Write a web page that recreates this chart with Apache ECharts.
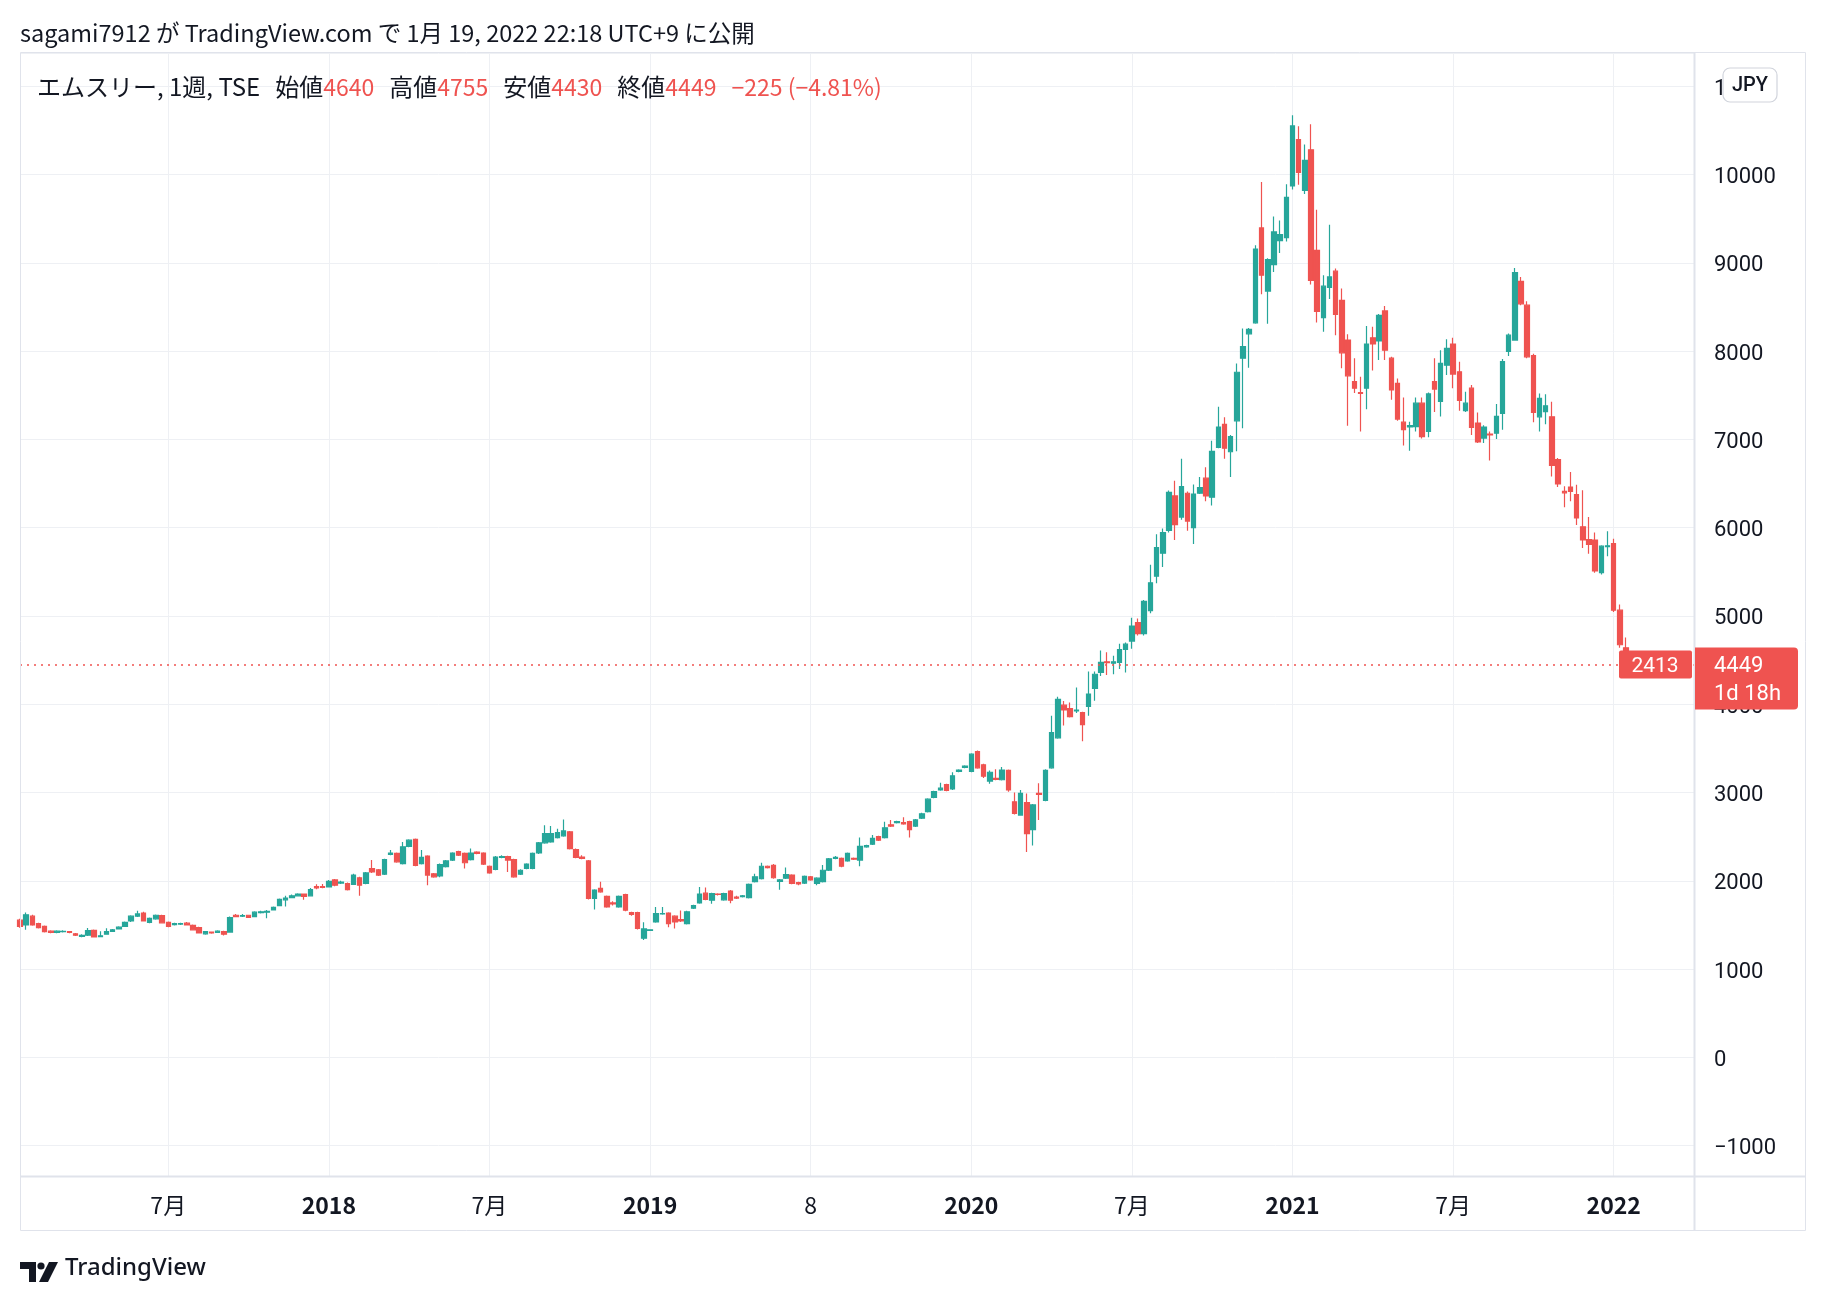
<!DOCTYPE html>
<html><head><meta charset="utf-8">
<script src="https://cdn.jsdelivr.net/npm/echarts@6/dist/echarts.min.js"></script>
<style>html,body{margin:0;padding:0;background:#fff}#c{width:1826px;height:1302px}</style>
</head><body><div id="c"></div>
<script>
// Weekly OHLC (エムスリー 2413, TSE)
const opens = [
1555,1500,1600,1515,1485,1430,1415,1425,1425,1400,1372,1385,1440,1368,1395,1428,1455,1485,1545,1600,
1635,1530,1570,1605,1530,1505,1510,1520,1495,1470,1400,1420,1415,1425,1420,1610,1600,1610,1595,1640,
1645,1670,1720,1785,1810,1830,1850,1830,1935,1935,1930,2010,1975,1970,1960,2035,1970,2140,2125,2075,
2300,2310,2195,2390,2470,2195,2280,2080,2055,2160,2235,2330,2310,2240,2325,2315,2165,2130,2265,2275,
2240,2075,2140,2140,2315,2430,2440,2490,2510,2555,2355,2270,2225,1800,1915,1825,1750,1705,1845,1640,
1640,1350,1440,1535,1625,1635,1600,1560,1515,1690,1750,1860,1780,1850,1785,1885,1815,1820,1810,1990,
2025,2165,2175,1995,2030,2065,1980,1975,2045,1970,1990,2120,2255,2255,2225,2255,2235,2385,2415,2500,
2490,2635,2660,2660,2670,2620,2710,2785,2945,3030,3090,3040,3240,3285,3240,3465,3315,3130,3160,3145,
3250,2895,2745,2885,2580,2990,2910,3280,3620,3990,3950,3925,3905,3975,4180,4360,4480,4465,4475,4620,
4715,4925,4800,5060,5450,5710,5970,6360,6120,6390,6000,6390,6560,6345,6910,7170,6860,7210,7920,8195,
8320,9395,8680,8980,9250,9285,9870,10395,9820,10280,9140,8380,8720,8905,8575,8125,7655,7530,7580,8150,
8115,8455,7920,7635,7195,7140,7145,7410,7090,7655,7430,7840,8080,7765,7325,7580,7185,7015,7060,7070,
7295,7995,8125,8790,8520,7950,7255,7315,7255,6770,6410,6460,6375,6010,5865,5860,5490,5785,5820,5065,
4640];
const closes = [
1485,1615,1500,1470,1425,1415,1430,1428,1415,1385,1382,1435,1365,1378,1425,1445,1475,1530,1600,1625,
1545,1575,1610,1525,1485,1515,1515,1500,1445,1410,1425,1410,1430,1395,1585,1595,1605,1585,1645,1650,
1655,1700,1790,1805,1830,1850,1825,1900,1920,1925,1995,1950,1985,1900,2065,1950,2090,2100,2065,2240,
2315,2215,2385,2460,2175,2265,2065,2045,2185,2225,2315,2290,2205,2315,2310,2190,2090,2270,2275,2235,
2045,2120,2190,2310,2430,2535,2535,2545,2565,2365,2265,2255,1800,1895,1875,1705,1740,1825,1668,1620,
1460,1455,1445,1630,1630,1515,1535,1545,1650,1720,1850,1790,1855,1845,1855,1780,1805,1830,1960,2045,
2165,2150,2035,2010,2070,1970,1965,2050,2010,2030,2120,2250,2265,2165,2310,2245,2390,2400,2480,2460,
2600,2620,2670,2645,2580,2690,2760,2925,3010,3050,3025,3190,3255,3300,3435,3280,3185,3230,3150,3255,
3030,2765,2990,2535,2860,2980,3250,3680,4055,3935,3860,3935,3770,4115,4340,4475,4470,4480,4620,4680,
4885,4800,5165,5375,5775,5945,6400,6035,6465,6075,6380,6455,6360,6865,7140,6900,7030,7760,8050,8245,
9155,8860,9035,9350,9320,9740,10550,10025,10160,8800,8450,8735,8840,8415,7980,7720,7580,7520,8080,8080,
8405,8010,7560,7230,7110,7155,7410,7030,7515,7570,7860,8030,7740,7440,7410,7135,6970,7140,7050,7260,
7880,8180,8890,8535,7935,7305,7465,7380,6705,6495,6395,6410,6110,5860,5810,5510,5790,5795,5065,4674,
4449];
const lows = [
1470,1445,1490,1460,1415,1405,1405,1415,1405,1375,1360,1375,1360,1360,1390,1420,1450,1480,1535,1590,
1540,1520,1560,1520,1475,1495,1500,1495,1440,1405,1390,1400,1410,1380,1415,1590,1590,1580,1590,1630,
1575,1665,1715,1710,1805,1825,1785,1825,1905,1915,1925,1940,1965,1890,1955,1830,1960,2090,2055,2065,
2290,2205,2185,2380,2165,2185,1950,2035,2040,2150,2225,2280,2140,2230,2300,2180,2080,2120,2255,2100,
2035,2065,2130,2130,2305,2420,2430,2480,2500,2355,2255,2245,1790,1675,1865,1695,1720,1695,1655,1605,
1450,1330,1435,1525,1615,1475,1460,1535,1505,1680,1740,1780,1740,1835,1775,1745,1795,1810,1800,1980,
2015,2140,2025,1900,2020,1960,1950,1965,2000,1950,1980,2110,2245,2155,2215,2235,2165,2375,2405,2450,
2480,2610,2650,2635,2490,2610,2700,2775,2935,3020,3015,3030,3230,3275,3230,3270,3165,3100,3140,3135,
3010,2750,2740,2327,2400,2688,2900,3270,3610,3760,3850,3900,3580,3870,4040,4320,4330,4340,4400,4360,
4630,4780,4780,5030,5370,5555,5945,5860,6090,5965,5815,6380,6300,6250,6900,6780,6575,6865,7125,7810,
8310,8645,8310,8895,9110,9240,9830,9885,9780,8755,8325,8220,8590,8180,7805,7155,7525,7090,7340,7780,
7900,7900,7450,7210,6930,6870,7090,7010,7025,7310,7260,7730,7580,7325,7310,7050,6960,6960,6760,7005,
7110,7945,8120,8520,7920,7195,7090,7170,6580,6460,6230,6300,6030,5770,5705,5490,5470,5675,5045,4640,
4430];
const highs = [
1570,1640,1615,1525,1495,1440,1440,1440,1432,1410,1395,1465,1450,1430,1462,1455,1485,1540,1610,1660,
1650,1585,1620,1615,1540,1525,1525,1535,1505,1480,1430,1425,1440,1435,1595,1625,1625,1615,1655,1660,
1670,1710,1800,1830,1845,1860,1855,1920,1960,1965,2010,2020,2000,1980,2080,2045,2100,2235,2135,2250,
2350,2320,2440,2470,2480,2350,2290,2090,2195,2235,2325,2340,2320,2365,2335,2325,2175,2280,2290,2285,
2250,2130,2200,2320,2440,2630,2620,2590,2695,2565,2365,2290,2235,1905,1990,1835,1770,1835,1855,1650,
1650,1530,1450,1705,1705,1645,1610,1665,1660,1730,1930,1925,1865,1860,1865,1895,1830,1840,1970,2080,
2205,2175,2190,2020,2150,2075,1990,2060,2055,2040,2180,2260,2280,2265,2320,2265,2490,2410,2520,2510,
2670,2690,2680,2720,2680,2700,2770,2935,3020,3110,3100,3230,3265,3310,3445,3475,3325,3250,3265,3290,
3260,3000,3030,2990,2870,3106,3265,3870,4085,4037,4020,4190,3915,4370,4370,4610,4590,4550,4685,4700,
4980,4970,5180,5580,5925,5990,6420,6530,6780,6410,6490,6575,6685,6985,7370,7250,7050,7860,8255,8260,
9200,9915,9050,9525,9480,9890,10670,10545,10340,10570,9600,8860,9430,8935,8710,8190,7920,7710,8285,8275,
8420,8510,7935,7690,7475,7200,7475,7475,7530,7920,8010,8135,8150,7880,7540,7615,7305,7160,7090,7400,
7910,8200,8940,8840,8565,7970,7520,7510,7425,6790,6470,6630,6485,6425,6120,5945,5800,5960,5875,5130,
4755];

// X axis: weekly slots from 2017-01-16, empty slots continue to the right edge
const startWeek = Date.UTC(2017, 0, 16);
const slotCount = 272;
const tickWeeks = [24, 50, 76, 102, 128, 154, 180, 206, 232, 258];
const tickLabels = ['7月', '2018', '7月', '2019', '8', '2020', '7月', '2021', '7月', '2022'];

// Header / price label texts
const publishedText = 'sagami7912 が TradingView.com で 1月 19, 2022 22:18 UTC+9 に公開';
const symbolText = 'エムスリー, 1週, TSE';
const lastClose = 4449;
const symbolCode = '2413';
const countdown = '1d 18h';

const UP = '#26a69a', DOWN = '#ef5350', TXT = '#131722', GRID = '#eef0f4', FRAME = '#e0e3eb';
const NUMF = 'Roboto, "Noto Sans", sans-serif';
const JPF = '"Noto Sans CJK JP", "Noto Sans", sans-serif';

const cats = [];
for (let i = 0; i < slotCount; i++) cats.push(new Date(startWeek + i * 7 * 864e5).toISOString().slice(0, 10));
const ohlc = opens.map((o, i) => [o, closes[i], lows[i], highs[i]]);
const first = opens[opens.length - 1], hi = highs[highs.length - 1], lo = lows[lows.length - 1];
const prevClose = closes[closes.length - 2];
const chg = lastClose - prevClose;
const fmtNeg = v => (v < 0 ? '\u2212' + Math.abs(v) : String(v));
const pct = (chg / prevClose * 100).toFixed(2);

const chart = echarts.init(document.getElementById('c'));
const isTick = idx => tickWeeks.indexOf(idx) >= 0;

chart.setOption({
  animation: false,
  backgroundColor: '#ffffff',
  grid: { left: 20, right: 132, top: 53, bottom: 126, containLabel: false },
  xAxis: {
    type: 'category', data: cats, boundaryGap: false,
    axisLine: { show: false }, axisTick: { show: false },
    axisLabel: {
      interval: isTick, margin: 14, color: TXT, fontSize: 23, fontFamily: JPF,
      formatter: (v, idx) => {
        const k = tickWeeks.indexOf(idx);
        if (k < 0) return '';
        const t = tickLabels[k];
        return /^\d{4}$/.test(t) ? '{y|' + t + '}' : '{m|' + t + '}';
      },
      rich: {
        y: { fontWeight: 'bold', fontSize: 23, fontFamily: JPF, color: TXT, lineHeight: 30 },
        m: { fontSize: 23, fontFamily: JPF, color: TXT, lineHeight: 30 }
      }
    },
    splitLine: { show: true, interval: isTick, lineStyle: { color: GRID, width: 1 } }
  },
  yAxis: {
    type: 'value', position: 'right', min: -1343, max: 11376, splitNumber: 12,
    minInterval: 1000, maxInterval: 1000, scale: false,
    axisLine: { show: false }, axisTick: { show: false },
    axisLabel: {
      showMinLabel: false, showMaxLabel: false, margin: 20, align: 'left',
      fontSize: 22, fontFamily: NUMF, color: TXT,
      formatter: v => '{v|' + fmtNeg(v) + '}',
      rich: { v: { fontSize: 22, fontFamily: NUMF, color: TXT, padding: [6, 0, 0, 0] } }
    },
    splitLine: { show: true, lineStyle: { color: GRID, width: 1 } }
  },
  series: [{
    type: 'candlestick', data: ohlc, barWidth: 5, clip: true,
    itemStyle: { color: UP, color0: DOWN, borderColor: UP, borderColor0: DOWN, borderWidth: 1.2 },
    markLine: {
      silent: true, symbol: 'none', animation: false,
      label: { show: false },
      lineStyle: { color: DOWN, type: [2, 5], width: 1.5 },
      data: [{ yAxis: lastClose }]
    }
  }]
});

const py = chart.convertToPixel({ yAxisIndex: 0 }, lastClose);
chart.setOption({
  graphic: [
    { type: 'text', left: 20, top: 21, z: 100, style: { text: publishedText, fontSize: 23.5, fontFamily: JPF, fill: TXT } },
    { type: 'text', left: 37, top: 75, z: 100, style: {
        text: '{b|' + symbolText + '}{g| }{b|始値}{r|' + first + '}{g| }{b|高値}{r|' + hi + '}{g| }{b|安値}{r|' + lo + '}{g| }{b|終値}{r|' + lastClose + '}{g| }{r|' + fmtNeg(chg) + ' (' + fmtNeg(Number(pct)) + '%)}',
        fontSize: 24, fontFamily: JPF, fill: TXT,
        rich: {
          b: { fontSize: 24, fontFamily: JPF, fill: TXT },
          r: { fontSize: 23, fontFamily: JPF, fill: DOWN },
          g: { width: 15, fontSize: 24 }
        } } },
    // frame
    { type: 'rect', z: 90, silent: true, shape: { x: 20.5, y: 52.5, width: 1785, height: 1178 }, style: { fill: 'none', stroke: FRAME, lineWidth: 1 } },
    { type: 'line', z: 90, silent: true, shape: { x1: 1694.5, y1: 52.5, x2: 1694.5, y2: 1230.5 }, style: { stroke: FRAME, lineWidth: 2 } },
    { type: 'line', z: 90, silent: true, shape: { x1: 20, y1: 1176.5, x2: 1806, y2: 1176.5 }, style: { stroke: FRAME, lineWidth: 2 } },
    // currency button
    { type: 'rect', z: 100, shape: { x: 1723, y: 68, width: 54, height: 34, r: 7 }, style: { fill: '#ffffff', stroke: '#d1d4dc', lineWidth: 1.2 } },
    { type: 'text', z: 101, x: 1750, y: 86, style: { text: 'JPY', fontSize: 20, fontFamily: NUMF, fontWeight: 500, fill: TXT, align: 'center', verticalAlign: 'middle' } },
    // symbol label on the price line
    { type: 'rect', z: 100, shape: { x: 1619, y: py - 14, width: 73, height: 28, r: 2 }, style: { fill: DOWN } },
    { type: 'text', z: 101, x: 1655, y: py + 2, style: { text: symbolCode, fontSize: 21, fontFamily: NUMF, fill: '#ffffff', align: 'center', verticalAlign: 'middle' } },
    // last price label on the axis
    { type: 'rect', z: 100, shape: { x: 1695, y: py - 17, width: 103, height: 62, r: [0, 4, 4, 0] }, style: { fill: DOWN } },
    { type: 'text', z: 101, x: 1714, y: py + 2, style: { text: String(lastClose), fontSize: 22, fontFamily: NUMF, fill: '#ffffff', align: 'left', verticalAlign: 'middle' } },
    { type: 'text', z: 101, x: 1714, y: py + 30, style: { text: countdown, fontSize: 22, fontFamily: NUMF, fill: '#ffffff', align: 'left', verticalAlign: 'middle' } },
    // TradingView footer logo
    { type: 'polygon', z: 100, shape: { points: [[20, 1262], [36, 1262], [36, 1282], [29, 1282], [29, 1269], [20, 1269]] }, style: { fill: TXT } },
    { type: 'circle', z: 100, shape: { cx: 41, cy: 1266, r: 3.6 }, style: { fill: TXT } },
    { type: 'polygon', z: 100, shape: { points: [[49, 1262], [58, 1262], [48, 1282], [39, 1282]] }, style: { fill: TXT } },
    { type: 'text', z: 100, left: 65, top: 1256, style: { text: 'TradingView', fontSize: 24, fontFamily: '"Noto Sans", sans-serif', fontWeight: 500, fill: TXT } }
  ]
});
</script>
</body></html>
